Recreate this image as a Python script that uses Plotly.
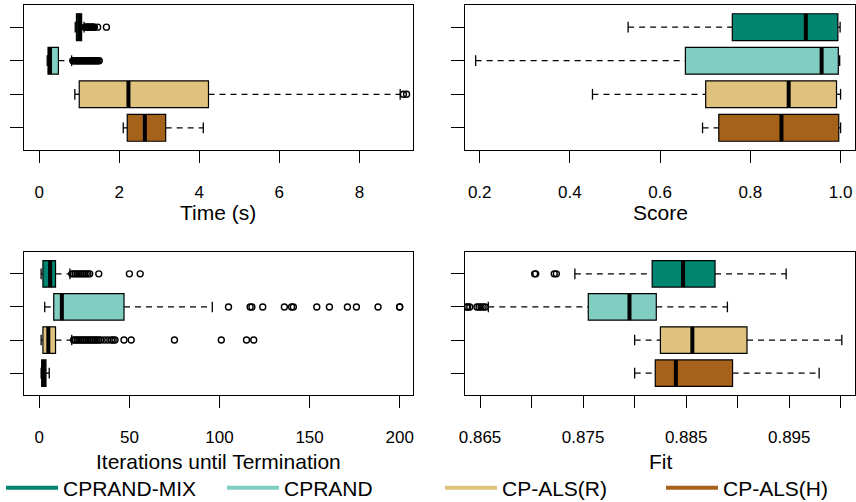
import plotly.graph_objects as go

# ---------------- data ----------------
methods = ["CPRAND-MIX", "CPRAND", "CP-ALS(R)", "CP-ALS(H)"]
colors = ["#018571", "#80cdc1", "#dfc27d", "#a6611a"]
positions = [4, 3, 2, 1]

# Time (s)
time_lower = [0.90, 0.20, 0.89, 2.10]
time_q1 = [0.93, 0.22, 1.00, 2.20]
time_median = [1.00, 0.27, 2.23, 2.64]
time_q3 = [1.06, 0.48, 4.23, 3.16]
time_upper = [1.12, 0.81, 9.02, 4.10]
time_outliers = [
    [1.14, 1.16, 1.18, 1.20, 1.22, 1.24, 1.26, 1.28, 1.30, 1.32, 1.34, 1.36, 1.38, 1.46, 1.68],
    [0.84, 0.87, 0.90, 0.93, 0.96, 0.99, 1.02, 1.05, 1.08, 1.11, 1.14, 1.17, 1.20, 1.23,
     1.26, 1.29, 1.32, 1.35, 1.38, 1.41, 1.44, 1.47, 1.50],
    [9.10, 9.18],
    [],
]

# Score
score_lower = [0.529, 0.191, 0.450, 0.694]
score_q1 = [0.760, 0.656, 0.701, 0.730]
score_median = [0.923, 0.958, 0.885, 0.869]
score_q3 = [0.994, 0.995, 0.991, 0.996]
score_upper = [0.999, 0.998, 1.000, 1.000]
score_outliers = [[], [], [], []]

# Iterations until Termination
iter_lower = [1, 3, 1, 1]
iter_q1 = [2, 8, 2, 1.3]
iter_median = [6, 12.5, 5, 2.5]
iter_q3 = [9, 47, 9, 3.7]
iter_upper = [17, 96, 18, 5.5]
iter_outliers = [
    [18, 19, 20, 21, 22, 23, 24, 25, 26, 27, 28, 33, 50, 56],
    [105, 117, 118, 124, 136, 140, 141, 154, 161, 171, 176, 188, 200, 200],
    [19, 20, 21, 22, 23, 24, 25, 26, 27, 28, 29, 30, 31, 32, 33, 34, 36, 38, 40, 41, 42,
     47, 51, 75, 101, 115, 119],
    [],
]

# Fit
fit_lower = [0.8742, 0.8658, 0.8800, 0.8800]
fit_q1 = [0.8817, 0.8755, 0.8825, 0.8820]
fit_median = [0.8847, 0.8795, 0.8856, 0.8840]
fit_q3 = [0.8878, 0.8821, 0.8909, 0.8895]
fit_upper = [0.8947, 0.8890, 0.9001, 0.8979]
fit_outliers = [
    [0.8703, 0.8704, 0.8722, 0.8724],
    [0.8637, 0.8638, 0.8640, 0.8647, 0.8649, 0.8651, 0.8653, 0.8655],
    [],
    [],
]

panels = [
    dict(name="Time (s)", lower=time_lower, q1=time_q1, med=time_median, q3=time_q3,
         upper=time_upper, out=time_outliers, ax="", range=[-0.38, 9.34],
         tickvals=[0, 2, 4, 6, 8], ticktext=["0", "2", "4", "6", "8"]),
    dict(name="Score", lower=score_lower, q1=score_q1, med=score_median, q3=score_q3,
         upper=score_upper, out=score_outliers, ax="2", range=[0.1674, 1.032],
         tickvals=[0.2, 0.4, 0.6, 0.8, 1.0], ticktext=["0.2", "0.4", "0.6", "0.8", "1.0"]),
    dict(name="Iterations until Termination", lower=iter_lower, q1=iter_q1, med=iter_median,
         q3=iter_q3, upper=iter_upper, out=iter_outliers, ax="3", range=[-8.5, 207.4],
         tickvals=[0, 50, 100, 150, 200], ticktext=["0", "50", "100", "150", "200"]),
    dict(name="Fit", lower=fit_lower, q1=fit_q1, med=fit_median, q3=fit_q3,
         upper=fit_upper, out=fit_outliers, ax="4", range=[0.86354, 0.90138],
         tickvals=[0.865, 0.870, 0.875, 0.880, 0.885, 0.890, 0.895, 0.900],
         ticktext=["0.865", "", "0.875", "", "0.885", "", "0.895", ""]),
]

W, H = 856, 502
BOXW = 0.8
STAPLE = 0.16
FONT = "Liberation Sans, Arial, sans-serif"
legend_x_px = [1, 222, 440, 661]

fig = go.Figure()

for p in panels:
    xa, ya = "x" + p["ax"], "y" + p["ax"]
    for i, m in enumerate(methods):
        pos = positions[i]
        lo, q1, md, q3, up = p["lower"][i], p["q1"][i], p["med"][i], p["q3"][i], p["upper"][i]
        fig.add_trace(go.Scatter(x=[lo, q1, None, q3, up], y=[pos, pos, None, pos, pos],
                                 mode="lines", line=dict(color="black", width=1.3, dash="6px,5px"),
                                 xaxis=xa, yaxis=ya, showlegend=False, hoverinfo="skip"))
        fig.add_trace(go.Scatter(x=[lo, lo, None, up, up],
                                 y=[pos - STAPLE, pos + STAPLE, None, pos - STAPLE, pos + STAPLE],
                                 mode="lines", line=dict(color="black", width=1.3),
                                 xaxis=xa, yaxis=ya, showlegend=False, hoverinfo="skip"))
        fig.add_trace(go.Bar(y=[pos], x=[q3 - q1], base=[q1], orientation="h", width=BOXW,
                             marker=dict(color=colors[i], line=dict(color="black", width=1.2)),
                             xaxis=xa, yaxis=ya, showlegend=False, hoverinfo="skip"))
        fig.add_trace(go.Scatter(x=[md, md], y=[pos - BOXW / 2, pos + BOXW / 2], mode="lines",
                                 line=dict(color="black", width=4),
                                 xaxis=xa, yaxis=ya, showlegend=False, hoverinfo="skip"))
        if p["out"][i]:
            fig.add_trace(go.Scatter(x=p["out"][i], y=[pos] * len(p["out"][i]), mode="markers",
                                     marker=dict(symbol="circle-open", size=6, color="black",
                                                 line=dict(width=1.4, color="black")),
                                     xaxis=xa, yaxis=ya, showlegend=False, hoverinfo="skip"))

legend_names = ["legend", "legend2", "legend3", "legend4"]
for i, m in enumerate(methods):
    fig.add_trace(go.Scatter(x=[None], y=[None], mode="lines", name=m,
                             line=dict(color=colors[i], width=4), xaxis="x", yaxis="y",
                             legend=legend_names[i], showlegend=True))

def dx(a, b):
    return [a / W, b / W]

def dy(top, bottom):
    return [(H - bottom) / H, (H - top) / H]

doms = {
    "": (dx(24, 413), dy(5, 150)),
    "2": (dx(465, 855), dy(5, 150)),
    "3": (dx(24, 413), dy(252, 395)),
    "4": (dx(465, 855), dy(252, 395)),
}

layout = dict(
    width=W, height=H, margin=dict(l=0, r=0, t=0, b=0, autoexpand=False),
    paper_bgcolor="white", plot_bgcolor="white",
    barmode="overlay", font=dict(family=FONT, color="black"),
    showlegend=True,
)
for i, ln in enumerate(legend_names):
    layout[ln] = dict(orientation="h", x=legend_x_px[i] / W, xanchor="left",
                      y=(H - 488) / H, yanchor="middle",
                      font=dict(size=21, family=FONT, color="black"),
                      itemwidth=52, bgcolor="rgba(0,0,0,0)", itemclick=False,
                      itemdoubleclick=False)

annotations = []
for p in panels:
    k = p["ax"]
    xd, yd = doms[k]
    layout["xaxis" + k] = dict(domain=xd, anchor="y" + k, range=p["range"],
                               tickmode="array", tickvals=p["tickvals"], ticktext=p["ticktext"],
                               ticks="outside", ticklen=12, tickwidth=1.2, tickcolor="black",
                               ticklabelstandoff=14,
                               tickfont=dict(size=17, family=FONT, color="black"),
                               showline=True, mirror=True, linecolor="black", linewidth=1.3,
                               showgrid=False, zeroline=False, automargin=False)
    layout["yaxis" + k] = dict(domain=yd, anchor="x" + k, range=[0.34, 4.66],
                               tickmode="array", tickvals=positions, showticklabels=False,
                               ticks="outside", ticklen=13, tickwidth=1.2, tickcolor="black",
                               showline=True, mirror=True, linecolor="black", linewidth=1.3,
                               showgrid=False, zeroline=False, automargin=False)
    cx = (xd[0] + xd[1]) / 2
    ty = 213 if k in ("", "2") else 461
    annotations.append(dict(text=p["name"], x=cx, y=(H - ty) / H, xref="paper", yref="paper",
                            xanchor="center", yanchor="middle", showarrow=False,
                            font=dict(size=21, family=FONT, color="black")))
layout["annotations"] = annotations

fig.update_layout(**layout)
fig.write_html("out.html", config={"displayModeBar": False},
               post_script="document.body.style.margin='0px';document.body.style.padding='0px';")
